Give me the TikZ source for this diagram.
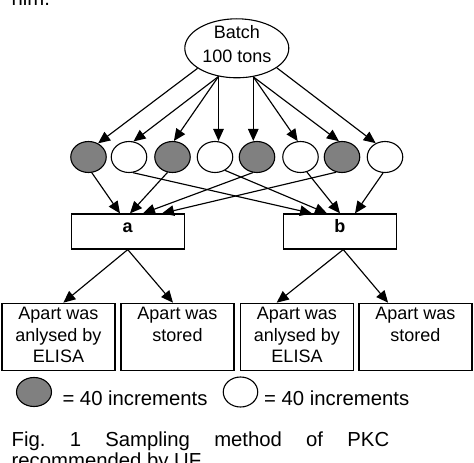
\documentclass[tikz,border=0pt]{standalone}
\usepackage{fontspec}
\setmainfont{Liberation Sans}
\usetikzlibrary{arrows.meta,shapes.geometric}
\definecolor{incgray}{RGB}{128,128,128}
\frenchspacing
\begin{document}
\begin{tikzpicture}[x=1pt,y=-1pt,
  conn/.style={-{Triangle[length=12pt,width=10.5pt]}, line width=1.15pt},
  inc/.style={ellipse, draw, line width=1.1pt, minimum width=35.5pt, minimum height=31pt, inner sep=0pt, fill=white},
  darkinc/.style={inc, fill=incgray},
  midbox/.style={rectangle, draw, line width=1.2pt, minimum width=113pt, minimum height=35pt, inner sep=0pt, font=\fontsize{18}{21.5}\selectfont\bfseries, text height=6pt, text depth=3.8pt},
  resbox/.style={rectangle, draw, line width=1.4pt, minimum width=113pt, minimum height=67pt, inner sep=0pt, font=\fontsize{18}{21.5}\selectfont},
  txt/.style={inner sep=0pt, font=\fontsize{20.3}{21.6}\selectfont}
]
\useasboundingbox (0,0) rectangle (474,463);

% top ellipse
\node[ellipse, draw, line width=1.1pt, minimum width=104pt, minimum height=59pt, inner sep=0pt] (batch) at (236.8,48.3) {};
\node[inner sep=0pt, align=center, font=\fontsize{18}{24.7}\selectfont] (batchtext) at (236.8,44) {Batch\\100 tons};

% increments
\node[darkinc] (c1) at (88.5,157) {};
\node[inc] (c2) at (129,157) {};
\node[darkinc] (c3) at (172.5,157) {};
\node[inc] (c4) at (215,157) {};
\node[darkinc] (c5) at (257,157) {};
\node[inc] (c6) at (300.5,157) {};
\node[darkinc] (c7) at (342,157) {};
\node[inc] (c8) at (385,157) {};

% middle boxes
\node[midbox] (a) at (127.75,231.5) {a};
\node[midbox] (b) at (339.75,231.5) {b};

% result boxes
\node[resbox] (r1) at (58.5,336.9) {\parbox[c][58.6pt][t]{110pt}{\centering Apart was\\anlysed by\\ELISA}};
\node[resbox] (r2) at (177.5,336.9) {\parbox[c][58.6pt][t]{110pt}{\centering Apart was\\stored}};
\node[resbox] (r3) at (297,336.9) {\parbox[c][58.6pt][t]{110pt}{\centering Apart was\\anlysed by\\ELISA}};
\node[resbox] (r4) at (415.3,336.9) {\parbox[c][58.6pt][t]{110pt}{\centering Apart was\\stored}};

% arrows batch -> increments
\draw[conn] (batch.207) -- (c1.55);
\draw[conn] (batch.237) -- (c2.74);
\draw[conn] (batch.237) -- (c3.85);
\draw[conn] (batch.237) -- (batch.237 |- c4.north);
\draw[conn] (batch.300) -- (batch.300 |- c5.north);
\draw[conn] (batch.300) -- (c6.100);
\draw[conn] (batch.300) -- (c7.101);
\draw[conn] (batch.334) -- (c8.124);

% increments -> a / b
\draw[conn] (c1.282) -- ([xshift=-7.75pt]a.north);
\draw[conn] (c3.252) -- ([xshift=2.25pt]a.north);
\draw[conn] (c5.255) -- ([xshift=15.25pt]a.north);
\draw[conn] (c7.249) -- ([xshift=34.25pt]a.north);
\draw[conn] (c2.284) -- ([xshift=-27.75pt]b.north);
\draw[conn] (c4.307) -- ([xshift=-12.75pt]b.north);
\draw[conn] (c6.293) -- ([xshift=0.25pt]b.north);
\draw[conn] (c8.263) -- ([xshift=15.25pt]b.north);

% a / b -> results
\draw[conn] (a.south) -- ([xshift=4.8pt]r1.north);
\draw[conn] (a.south) -- ([xshift=-4.5pt]r2.north);
\draw[conn] ([xshift=3.5pt]b.south) -- ([xshift=-20.3pt]r3.north);
\draw[conn] ([xshift=3.5pt]b.south) -- ([xshift=-27.2pt]r4.north);

% legend
\node[darkinc, minimum width=35pt, minimum height=29pt] (leg1) at (34,392) {};
\node[txt, anchor=base west] (legtext1) at (62.3,405) {= 40 increments};
\node[inc, minimum width=34.5pt, minimum height=30pt] (leg2) at (240.5,392) {};
\node[txt, anchor=base west] (legtext2) at (264,405) {= 40 increments};

% surrounding text
\node[txt, anchor=base west] (prev) at (11.4,5.6) {him.};
\node[txt, anchor=base west] (cap1) at (11.5,446) {\makebox[377.5pt][s]{Fig. 1 Sampling method of PKC}};
\node[txt, anchor=base west] (cap2) at (11.5,467.6) {recommended by UF};
\end{tikzpicture}
\end{document}
